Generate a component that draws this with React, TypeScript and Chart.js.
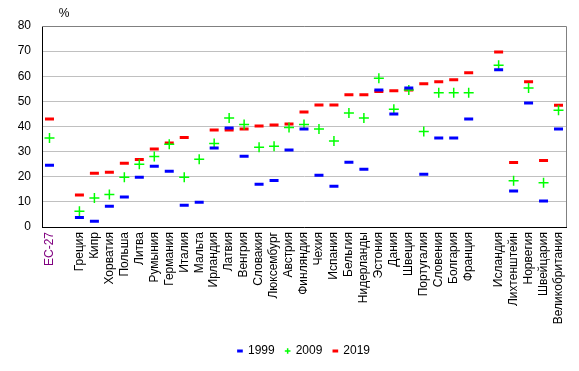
import React, { useEffect, useRef } from 'react';
import { Chart, registerables } from 'chart.js';

Chart.register(...registerables);

const categories = ['ЕС-27', '', 'Греция', 'Кипр', 'Хорватия', 'Польша', 'Литва', 'Румыния', 'Германия', 'Италия', 'Мальта', 'Ирландия', 'Латвия', 'Венгрия', 'Словакия', 'Люксембург', 'Австрия', 'Финляндия', 'Чехия', 'Испания', 'Бельгия', 'Нидерланды', 'Эстония', 'Дания', 'Швеция', 'Португалия', 'Словения', 'Болгария', 'Франция', '', 'Исландия', 'Лихтенштейн', 'Норвегия', 'Швейцария', 'Великобритания'];

const v1999 = [24.6, null, 3.8, 2.3, 8.3, 11.9, 19.8, 24.2, 22.2, 8.7, 9.9, 31.4, 39.4, 28.2, 17.0, 18.5, 30.6, 39.0, 20.6, 16.2, 25.8, 23.0, 54.5, 45.0, 55.3, 21.0, 35.4, 35.4, 43.0, null, 62.6, 14.3, 49.4, 10.3, 39.0];
const v2009 = [35.4, null, 6.3, 11.5, 12.9, 19.8, 25.0, 28.1, 32.9, 19.8, 27.0, 33.2, 43.4, 40.8, 31.7, 32.1, 39.6, 40.8, 39.0, 34.2, 45.4, 43.4, 59.2, 46.9, 54.5, 38.0, 53.4, 53.4, 53.4, null, 64.4, 18.4, 55.3, 17.6, 46.5];
const v2019 = [43.0, null, 12.7, 21.4, 21.8, 25.4, 26.9, 31.0, 33.4, 35.6, null, 38.6, 38.6, 39.0, 40.2, 40.6, 41.0, 45.8, 48.6, 48.6, 52.6, 52.6, 53.9, 54.2, 54.5, 57.0, 57.8, 58.6, 61.4, null, 69.7, 25.7, 57.8, 26.5, 48.5];

const seriesNames = ['1999', '2009', '2019'];
const unitLabel = '%';

const FONT = "'Liberation Sans', Arial, sans-serif";

const framePlugin = {
  id: 'frame',
  afterLayout(chart: any) {
    const lg = chart.legend;
    if (lg) {
      lg.left = chart.chartArea.left;
      lg.right = chart.chartArea.right;
    }
  },
  afterDraw(chart: any) {
    const { ctx, chartArea } = chart;
    ctx.save();
    ctx.strokeStyle = '#808080';
    ctx.lineWidth = 1;
    ctx.beginPath();
    ctx.moveTo(chartArea.left, chartArea.top + 0.5);
    ctx.lineTo(chartArea.right + 0.5, chartArea.top + 0.5);
    ctx.lineTo(chartArea.right + 0.5, chartArea.bottom);
    ctx.stroke();
    ctx.fillStyle = '#000';
    ctx.font = `12px ${FONT}`;
    ctx.textAlign = 'center';
    ctx.textBaseline = 'middle';
    ctx.fillText(unitLabel, chartArea.left + 22, chartArea.top - 12);
    ctx.restore();
  },
};

export default function App() {
  const ref = useRef<HTMLCanvasElement>(null);
  useEffect(() => {
    document.body.style.margin = '0';
    const ctx = ref.current!;
    const chart = new Chart(ctx, {
      type: 'line',
      data: {
        labels: categories,
        datasets: [
          {
            label: seriesNames[0],
            data: v1999,
            showLine: false,
            pointStyle: 'line',
            pointRadius: 4.5,
            pointHoverRadius: 4.5,
            pointBorderWidth: 3,
            borderColor: '#0000ff',
            backgroundColor: '#0000ff',
          },
          {
            label: seriesNames[1],
            data: v2009,
            showLine: false,
            pointStyle: 'cross',
            pointRadius: 5,
            pointHoverRadius: 5,
            pointBorderWidth: 1.5,
            borderColor: '#00ff00',
            backgroundColor: '#00ff00',
          },
          {
            label: seriesNames[2],
            data: v2019,
            showLine: false,
            pointStyle: 'line',
            pointRadius: 4.5,
            pointHoverRadius: 4.5,
            pointBorderWidth: 3,
            borderColor: '#ff0000',
            backgroundColor: '#ff0000',
          },
        ],
      },
      options: {
        animation: false,
        responsive: false,
        maintainAspectRatio: false,
        layout: { padding: { left: 0, right: 13, top: 26, bottom: 4 } },
        plugins: {
          tooltip: { enabled: false },
          legend: {
            position: 'bottom',
            labels: {
              usePointStyle: true,
              boxWidth: 4,
              boxHeight: 4,
              padding: 11,
              color: '#000',
              font: { family: FONT, size: 12 },
            },
          },
        },
        scales: {
          x: {
            type: 'category',
            offset: true,
            grid: { display: false, drawTicks: false },
            border: { display: true, color: '#000', width: 1 },
            ticks: {
              autoSkip: false,
              minRotation: 90,
              maxRotation: 90,
              padding: 5,
              color: (c: any) => (c.index === 0 ? '#800080' : '#000'),
              font: { family: FONT, size: 12 },
            },
            afterFit: (scale: any) => {
              scale.height = 107;
            },
          },
          y: {
            min: 0,
            max: 80,
            ticks: {
              stepSize: 10,
              padding: 11,
              color: '#000',
              font: { family: FONT, size: 12 },
            },
            grid: { color: '#c0c0c0', drawTicks: false },
            border: { display: true, color: '#000', width: 1 },
            afterFit: (scale: any) => {
              scale.width = 42;
            },
          },
        },
      },
      plugins: [framePlugin],
    });
    return () => chart.destroy();
  }, []);
  return (
    <div style={{ width: 579, height: 371 }}>
      <canvas ref={ref} width={579} height={371} style={{ width: 579, height: 371, display: 'block' }} />
    </div>
  );
}
